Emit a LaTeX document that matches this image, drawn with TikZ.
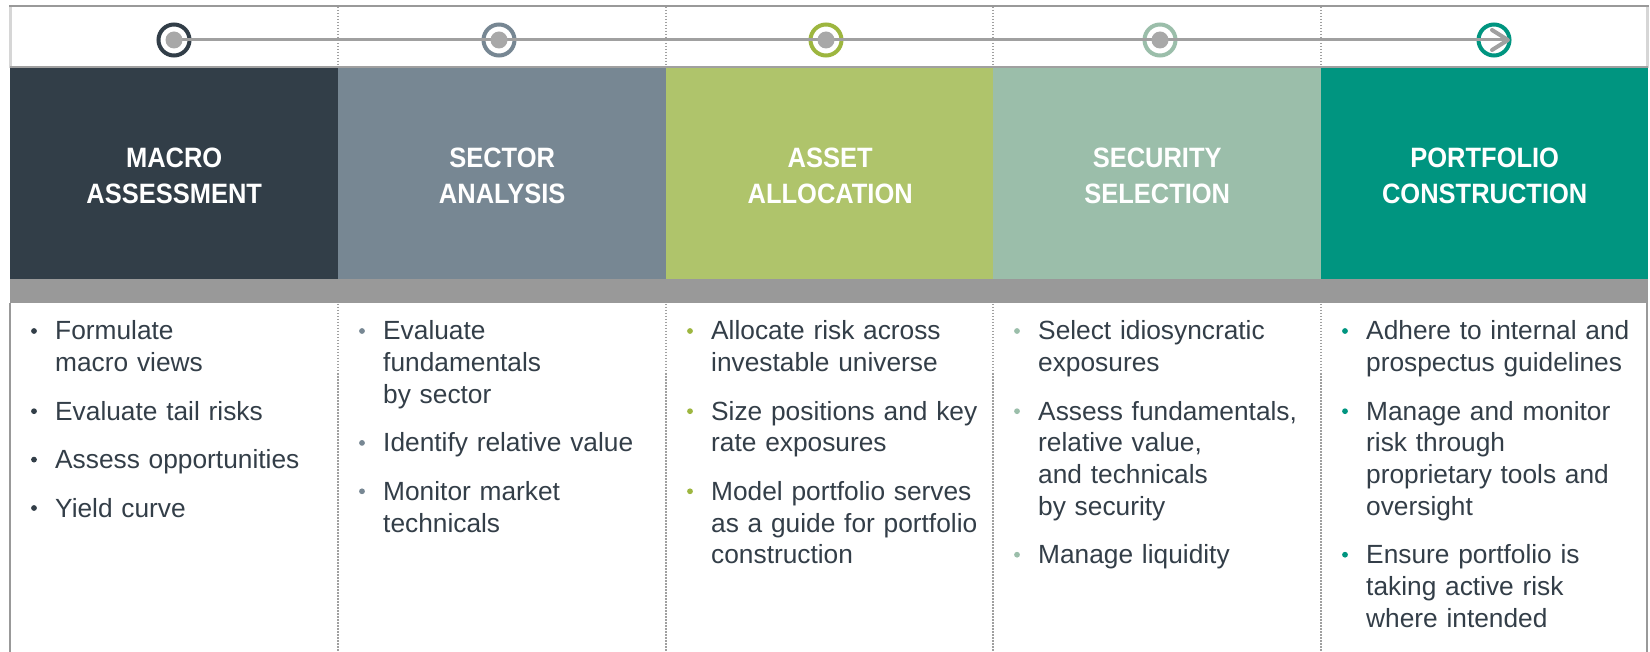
\documentclass[tikz,border=0pt]{standalone}
\usepackage{fontspec}
\setmainfont{Liberation Sans}
\newfontfamily\titlefont[FakeStretch=0.91]{Liberation Sans}
\definecolor{cA}{HTML}{323E48}
\definecolor{cB}{HTML}{778793}
\definecolor{cC}{HTML}{AFC46B}
\definecolor{cCring}{HTML}{9DB63F}
\definecolor{cD}{HTML}{9BBEAA}
\definecolor{cE}{HTML}{009580}
\definecolor{band}{HTML}{999999}
\definecolor{txt}{HTML}{333E48}
\definecolor{tl}{HTML}{A0A0A0}
\definecolor{dotg}{HTML}{A8A8A8}
\definecolor{lightframe}{HTML}{D6D6D6}
\begin{document}
\begin{tikzpicture}[x=1pt,y=-1pt,
  hdr/.style={anchor=north west, minimum width=328pt, minimum height=215pt, inner sep=0pt,
    align=center, text=white, font={\titlefont\bfseries\fontsize{28}{36}\selectfont}},
  ring/.style={circle, line width=4pt, minimum size=31pt, inner sep=0pt, fill=white},
  hub/.style={circle, fill=dotg, minimum size=17pt, inner sep=0pt},
  body/.style={anchor=base west, inner sep=0pt, text width=285pt, align=left, text=txt,
    font={\fontsize{26.3}{31.7}\selectfont}},
  divider/.style={tl, line width=1.5pt, dash pattern=on 1.5pt off 1.5pt},
]
\useasboundingbox (0,0) rectangle (1650,652);
\fill[white] (0,0) rectangle (1650,652);

% frame
\draw[lightframe, line width=3pt] (10,6) -- (10,68);
\draw[lightframe, line width=3pt] (1647,6) -- (1647,68);
\draw[band, line width=2.5pt] (10,303) -- (10,652);
\draw[band, line width=2pt] (1647,303) -- (1647,652);
\draw[band, line width=2.5pt] (9,6) -- (1649,6);
\draw[tl, line width=2pt] (10,67) -- (1648,67);

% headers (taller box extends under the band so the titles sit 2pt lower)
\node[hdr, fill=cA] (h1) at (10,68) {MACRO\\ASSESSMENT};
\node[hdr, fill=cB] (h2) at (338,68) {SECTOR\\ANALYSIS};
\node[hdr, fill=cC] (h3) at (666,68) {ASSET\\ALLOCATION};
\node[hdr, fill=cD] (h4) at (993,68) {SECURITY\\SELECTION};
\node[hdr, fill=cE, minimum width=327pt] (h5) at (1321,68) {PORTFOLIO\\CONSTRUCTION};

% gray band
\fill[band] (10,279) rectangle (1648,303);
\fill[white] (9,303) rectangle (1649,300) ;
\fill[band] (10,279) rectangle (1648,303);

% dividers
\foreach \xx in {338,666,993,1321}{
  \draw[divider] (\xx,7) -- (\xx,66);
  \draw[divider] (\xx,304) -- (\xx,652);
}

% timeline
\node[ring, draw=cA] (r1) at (174,40) {};
\node[ring, draw=cB] (r2) at (499,40) {};
\node[ring, draw=cCring] (r3) at (826,40) {};
\node[ring, draw=cD] (r4) at (1160,40) {};
\node[ring, draw=cE] (r5) at (1494,40) {};
\coordinate (tip) at (1508,40);
\draw[tl, line width=3pt] (r1.center) -- (tip);
\draw[tl, line width=4pt, line cap=round, line join=round] (1492,30) -- (tip) -- (1492,50);
\node[hub] (d1) at (r1) {};
\node[hub] (d2) at (r2) {};
\node[hub] (d3) at (r3) {};
\node[hub] (d4) at (r4) {};

% column 1
\foreach \yy in {340,420.2,468.6,517} \fill[cA] (34,\yy-9) circle (2.9);
\node[body] (a1) at (55,340) {Formulate\\macro views};
\node[body] (a2) at (55,420.2) {Evaluate tail risks};
\node[body] (a3) at (55,468.6) {Assess opportunities};
\node[body] (a4) at (55,517) {Yield curve};

% column 2
\foreach \yy in {340,451.9,500.3} \fill[cB] (362,\yy-9) circle (2.9);
\node[body] (b1) at (383,340) {Evaluate\\fundamentals\\by sector};
\node[body] (b2) at (383,451.9) {Identify relative value};
\node[body] (b3) at (383,500.3) {Monitor market\\technicals};

% column 3
\foreach \yy in {340,420.2,500.3} \fill[cCring] (690,\yy-9) circle (2.9);
\node[body] (c1) at (711,340) {Allocate risk across\\investable universe};
\node[body] (c2) at (711,420.2) {Size positions and key\\rate exposures};
\node[body] (c3) at (711,500.3) {Model portfolio serves\\as a guide for portfolio\\construction};

% column 4
\foreach \yy in {340,420.2,563.7} \fill[cD] (1017,\yy-9) circle (2.9);
\node[body] (e1) at (1038,340) {Select idiosyncratic\\exposures};
\node[body] (e2) at (1038,420.2) {Assess fundamentals,\\relative value,\\and technicals\\by security};
\node[body] (e3) at (1038,563.7) {Manage liquidity};

% column 5
\foreach \yy in {340,420.2,563.7} \fill[cE] (1345,\yy-9) circle (2.9);
\node[body] (f1) at (1366,340) {Adhere to internal and\\prospectus guidelines};
\node[body] (f2) at (1366,420.2) {Manage and monitor\\risk through\\proprietary tools and\\oversight};
\node[body] (f3) at (1366,563.7) {Ensure portfolio is\\taking active risk\\where intended};
\end{tikzpicture}
\end{document}
